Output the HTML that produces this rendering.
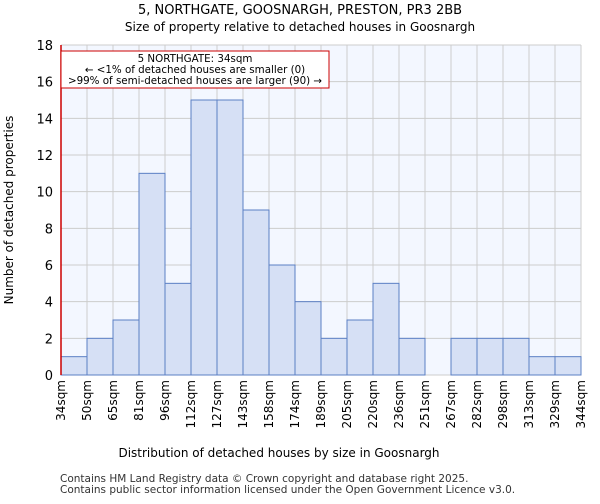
<!DOCTYPE html>
<html><head><meta charset="utf-8"><style>
body{margin:0;background:#fff;font-family:"DejaVu Sans","Liberation Sans",sans-serif}
</style></head><body>
<svg id="c" width="600" height="500" xmlns="http://www.w3.org/2000/svg">
<text x="300" y="14" text-anchor="middle" font-size="13">5, NORTHGATE, GOOSNARGH, PRESTON, PR3 2BB</text>
<text x="300" y="31" text-anchor="middle" font-size="12">Size of property relative to detached houses in Goosnargh</text>
<rect x="61" y="45" width="520" height="330" fill="#f3f7ff"/>
<g id="grid"></g><g id="bars"></g><g id="axes"></g>
<text x="279" y="457" text-anchor="middle" font-size="12">Distribution of detached houses by size in Goosnargh</text>
<text transform="translate(13,210) rotate(-90)" text-anchor="middle" font-size="12">Number of detached properties</text>
<line x1="61" y1="45" x2="61" y2="375" stroke="#cc0000" stroke-width="1.5"/>
<rect x="61" y="51" width="268" height="37" fill="#fff" stroke="#cc0000"/>
<text x="195" y="62" text-anchor="middle" font-size="10.3">5 NORTHGATE: 34sqm</text>
<text x="195" y="73" text-anchor="middle" font-size="10.3">← &lt;1% of detached houses are smaller (0)</text>
<text x="195" y="84" text-anchor="middle" font-size="10.3">&gt;99% of semi-detached houses are larger (90) →</text>
<text x="60" y="482" font-size="10.5" fill="#333">Contains HM Land Registry data © Crown copyright and database right 2025.</text>
<text x="60" y="493" font-size="10.5" fill="#333">Contains public sector information licensed under the Open Government Licence v3.0.</text>
</svg>
<script>
const tickLabels=["34sqm","50sqm","65sqm","81sqm","96sqm","112sqm","127sqm","143sqm","158sqm","174sqm","189sqm","205sqm","220sqm","236sqm","251sqm","267sqm","282sqm","298sqm","313sqm","329sqm","344sqm"];
const counts=[1,2,3,11,5,15,15,9,6,4,2,3,5,2,0,2,2,2,1,1];
const yTicks=[0,2,4,6,8,10,12,14,16,18];
const NS="http://www.w3.org/2000/svg";
const x0=61,x1=581,y0=375,y1=45,yMax=18;
const bw=(x1-x0)/counts.length;
const xs=i=>x0+i*bw;
const ys=v=>y0-(v/yMax)*(y0-y1);
function mk(t,a,p){const e=document.createElementNS(NS,t);for(const k in a)e.setAttribute(k,a[k]);document.getElementById(p).appendChild(e);return e;}
yTicks.forEach(v=>{
 const l=mk('line',{x1:x0,x2:x1,y1:ys(v),y2:ys(v),stroke:'#cccccc','stroke-width':1},'grid');
 
 
 const t=mk('text',{x:x0-8,y:ys(v)+5,'text-anchor':'end','font-size':13},'axes');
 t.textContent=v;
 
 
});
tickLabels.forEach((s,i)=>{
 const l=mk('line',{x1:xs(i),x2:xs(i),y1:y1,y2:y0,stroke:'#cccccc','stroke-width':1},'grid');
 
 
 const t=mk('text',{transform:`translate(${xs(i)+4},${y0+5}) rotate(-90)`,'text-anchor':'end','font-size':12},'axes');
 t.textContent=s;
 
 
});
counts.forEach((v,i)=>{
 if(v<=0)return;
 const r=mk('rect',{x:xs(i),y:ys(v),width:bw,height:y0-ys(v),fill:'#d6e0f5',stroke:'#5b7fc4','stroke-width':1},'bars');
 
 
});
</script>
</body></html>
